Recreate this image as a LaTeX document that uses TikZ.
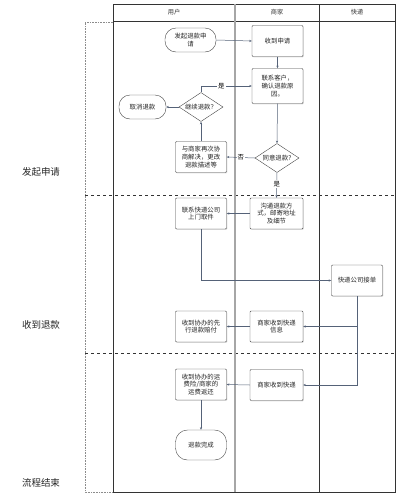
\documentclass[tikz,border=0pt]{standalone}
\usepackage{fontspec}
\newfontfamily\cjk{Noto Sans CJK SC}
\usetikzlibrary{shapes.geometric,arrows.meta,shadows}
\definecolor{conn}{RGB}{85,98,120}
\definecolor{edge}{RGB}{70,70,70}
\begin{document}
\begin{tikzpicture}[x=1pt,y=-1pt,
  txt/.style={font=\cjk\fontsize{6.4}{7.6}\selectfont, align=center, text=black!85},
  box/.style={txt, draw=edge, fill=white, minimum width=51pt, minimum height=31pt, inner sep=1pt, rounded corners=1pt,
    drop shadow={shadow xshift=0.8pt, shadow yshift=-0.8pt, fill=black!25}},
  term/.style={txt, draw=edge, fill=white, minimum width=51pt, minimum height=25pt, inner sep=1pt, rounded corners=11pt},
  dec/.style={txt, draw=edge, fill=white, diamond, aspect=1.5, inner sep=0pt, minimum width=44pt, minimum height=29pt},
  arr/.style={draw=conn, line width=0.5pt, -{Stealth[length=2.6pt,width=2.2pt]}},
  lbl/.style={txt, fill=white, inner sep=1pt, text=black},
  lane/.style={font=\cjk\fontsize{6.2}{7}\selectfont, text=black!80},
  phase/.style={font=\cjk\fontsize{9.5}{11}\selectfont, text=black!85}
]
\useasboundingbox (0,0) rectangle (400,501);
% dotted outer frame
\draw[black!45, densely dotted, line width=0.6pt] (113,22) -- (85,22) -- (85,492) -- (395,492);
% dashed phase separators
\draw[black!80, dashed, line width=0.5pt] (85,195) -- (395,195);
\draw[black!80, dashed, line width=0.5pt] (85,353) -- (395,353);
% swimlane table
\draw[black!80, line width=0.6pt] (113,4) rectangle (395,492);
\draw[black!80, line width=0.6pt] (113,21) -- (395,21);
\draw[black!35, line width=1.4pt] (235,4) -- (235,492);
\draw[black!80, line width=0.5pt] (319,4) -- (319,492);
\node[lane] (h1) at (174,12.5) {用户};
\node[lane] (h2) at (277,12.5) {商家};
\node[lane] (h3) at (357,12.5) {快递};
% phase labels
\node[phase] (p1) at (41,172) {发起申请};
\node[phase] (p2) at (41,325) {收到退款};
\node[phase] (p3) at (41,483) {流程结束};
% nodes
\node[term, minimum height=24pt] (start) at (190.5,40) {发起退款申\\请};
\node[box] (recv) at (277.5,41) {收到申请};
\node[box, minimum height=35pt] (contact) at (277.5,86) {联系客户，\\确认退款原\\因。};
\node[dec] (cont) at (201,107) {继续退款？};
\node[term, minimum width=47pt, minimum height=24pt] (cancel) at (142.5,107) {取消退款};
\node[box] (nego) at (201,157) {与商家再次协\\商解决，更改\\退款描述等};
\node[dec] (agree) at (277,158) {同意退款?};
\node[box] (pickup) at (201,213.5) {联系快递公司\\上门取件};
\node[box, minimum width=53pt] (comm) at (276.5,213.5) {沟通退款方\\式，邮寄地址\\及细节};
\node[box] (order) at (357,280.5) {快递公司接单};
\node[box] (adv) at (201,326.5) {收到协办的先\\行退款赔付};
\node[box, minimum width=53pt] (info) at (276.5,326.5) {商家收到快递\\信息};
\node[box] (fee) at (201,384.5) {收到协办的运\\费险/商家的\\运费返还};
\node[box, minimum width=53pt] (arrive) at (276.5,385) {商家收到快递};
\node[term, minimum height=30pt, rounded corners=12pt] (done) at (201,445) {退款完成};
% connectors
\draw[arr] (start.east) -- (recv.west);
\draw[arr] (recv.south) -- (contact.north);
\draw[arr] (contact.south) -- (agree.north);
\draw[arr] (agree.west) -- node[lbl]{否} (nego.east);
\draw[arr] (nego.north) -- (cont.south);
\draw[arr] (cont.west) -- (cancel.east);
\draw[arr] (cont.north) |- node[lbl, pos=0.7]{是} (contact.west);
\draw[arr] (agree.south) -- node[lbl, pos=0.45]{是} (comm.north);
\draw[arr] (comm.west) -- (pickup.east);
\draw[arr] (pickup.south) |- (order.west);
\draw[arr] (order.south) |- (info.east);
\draw[arr] (order.south) |- (arrive.east);
\draw[arr] (info.west) -- (adv.east);
\draw[arr] (arrive.west) -- (fee.east);
\draw[arr] (fee.south) -- (done.north);
\end{tikzpicture}
\end{document}
